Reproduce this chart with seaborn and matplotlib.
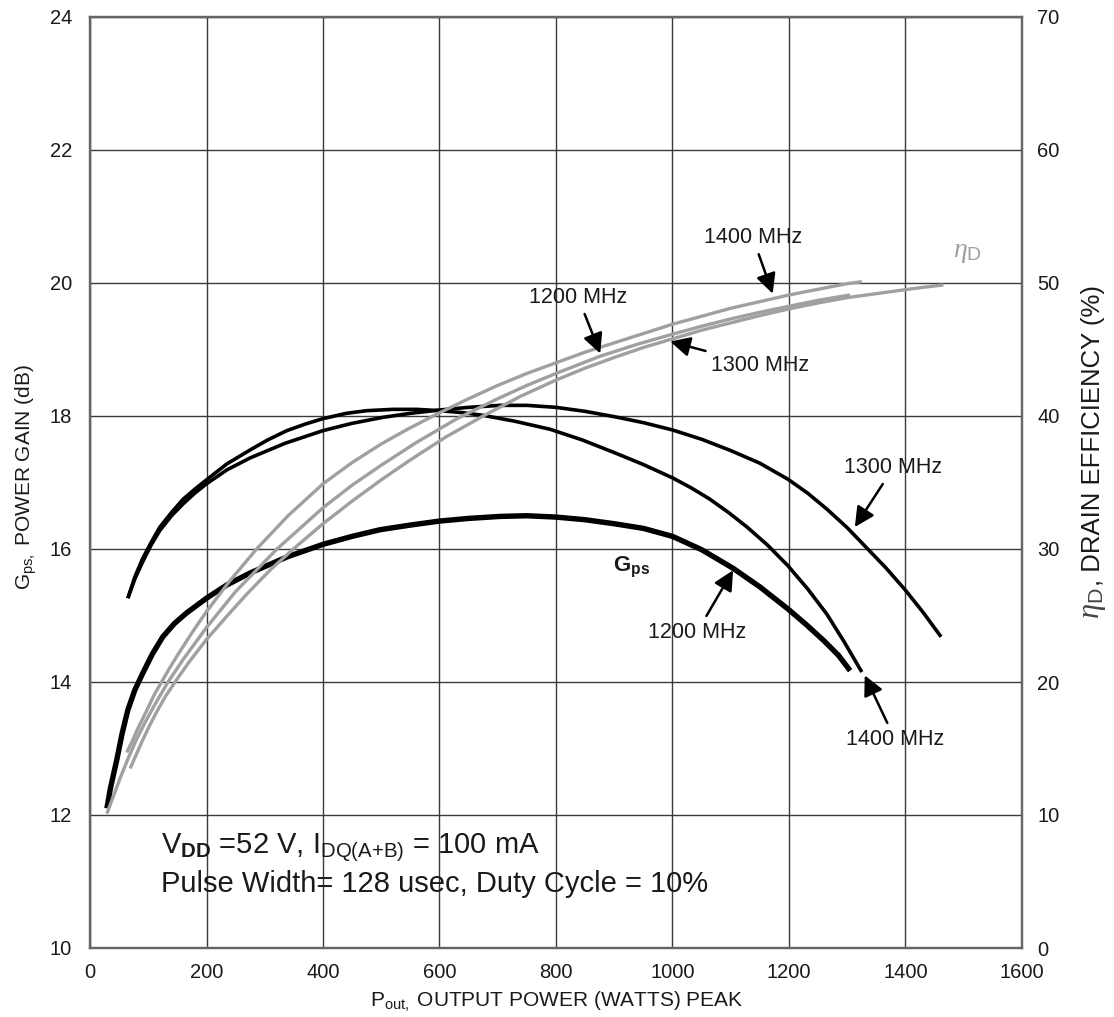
import matplotlib
matplotlib.use("Agg")
import matplotlib.pyplot as plt
import numpy as np
import pandas as pd
import seaborn as sns

# ---- Power gain (dB) vs. peak output power (W) ----
pout_gain_1200 = [29, 35, 46, 55, 65, 77, 91, 107, 125, 145, 166, 200, 235, 275, 338,
                  400, 450, 498, 550, 600, 650, 704, 750, 800, 850, 900, 950, 1000,
                  1050, 1104, 1150, 1198, 1230, 1260, 1285, 1305]
gain_1200 = [12.1, 12.4, 12.83, 13.22, 13.58, 13.88, 14.14, 14.42, 14.68, 14.88, 15.04,
             15.26, 15.46, 15.64, 15.88, 16.07, 16.19, 16.29, 16.36, 16.42, 16.46, 16.49,
             16.5, 16.48, 16.44, 16.38, 16.31, 16.19, 15.99, 15.71, 15.43, 15.1, 14.86,
             14.62, 14.4, 14.17]

pout_gain_1300 = [65, 77, 90, 105, 120, 140, 160, 180, 200, 235, 275, 335, 400, 450,
                  503, 550, 600, 650, 704, 750, 800, 850, 900, 950, 1000, 1050, 1100,
                  1150, 1198, 1232, 1265, 1300, 1333, 1366, 1399, 1430, 1461]
gain_1300 = [15.26, 15.55, 15.8, 16.06, 16.28, 16.5, 16.68, 16.84, 16.98, 17.19, 17.37,
             17.59, 17.78, 17.89, 17.98, 18.04, 18.09, 18.13, 18.16, 18.16, 18.13, 18.07,
             17.99, 17.9, 17.79, 17.65, 17.48, 17.29, 17.05, 16.84, 16.6, 16.32, 16.02,
             15.72, 15.39, 15.05, 14.68]

pout_gain_1400 = [65, 77, 90, 105, 120, 140, 160, 180, 200, 235, 275, 305, 338, 370,
                  400, 440, 475, 520, 561, 600, 640, 675, 730, 790, 845, 900, 950, 1000,
                  1032, 1064, 1096, 1128, 1163, 1198, 1232, 1265, 1295, 1325]
gain_1400 = [15.26, 15.58, 15.85, 16.1, 16.33, 16.55, 16.75, 16.9, 17.04, 17.28, 17.49,
             17.64, 17.78, 17.88, 17.96, 18.04, 18.08, 18.1, 18.1, 18.08, 18.05, 18.01,
             17.92, 17.8, 17.64, 17.45, 17.27, 17.07, 16.92, 16.75, 16.55, 16.33, 16.06,
             15.75, 15.4, 15.02, 14.6, 14.15]

# ---- Drain efficiency (%) vs. peak output power (W) ----
pout_eff_1200 = [29, 40, 52, 65, 80, 95, 110, 122, 134, 160, 200, 250, 321, 400, 450,
                 500, 560, 630, 700, 750, 800, 876, 940, 1000, 1050, 1100, 1150, 1200,
                 1250, 1305]
eff_1200 = [10.1, 11.4, 12.8, 14.2, 15.7, 17.0, 18.2, 19.1, 20.0, 21.7, 24.1, 26.8,
            30.0, 33.1, 34.8, 36.3, 38.0, 39.8, 41.3, 42.3, 43.2, 44.5, 45.4, 46.15,
            46.75, 47.3, 47.8, 48.25, 48.7, 49.1]

pout_eff_1300 = [69, 80, 90, 102, 115, 130, 146, 170, 200, 235, 270, 310, 349, 400,
                 450, 500, 550, 610, 675, 740, 800, 850, 900, 950, 1000, 1050, 1100,
                 1150, 1200, 1250, 1300, 1350, 1400, 1435, 1465]
eff_1300 = [13.5, 14.6, 15.6, 16.7, 17.8, 18.95, 20.0, 21.5, 23.2, 24.95, 26.65, 28.45,
            30.0, 31.9, 33.6, 35.2, 36.7, 38.4, 40.0, 41.5, 42.7, 43.6, 44.4, 45.15,
            45.8, 46.45, 47.0, 47.55, 48.05, 48.5, 48.9, 49.2, 49.5, 49.7, 49.85]

pout_eff_1400 = [63, 72, 80, 90, 100, 111, 123, 136, 150, 175, 200, 240, 286, 340, 400,
                 450, 500, 545, 589, 645, 700, 750, 800, 850, 900, 950, 1000, 1050,
                 1100, 1150, 1200, 1235, 1270, 1300, 1325]
eff_1400 = [14.7, 15.5, 16.3, 17.2, 18.1, 19.1, 20.0, 21.0, 22.0, 23.7, 25.3, 27.6,
            30.0, 32.5, 34.9, 36.5, 37.9, 39.0, 40.0, 41.2, 42.3, 43.2, 44.0, 44.8,
            45.5, 46.2, 46.9, 47.5, 48.1, 48.6, 49.1, 49.4, 49.7, 49.95, 50.1]

x_ticks = list(range(0, 1601, 200))
gain_ticks = list(range(10, 25, 2))
eff_ticks = list(range(0, 71, 10))

gain_df = pd.concat([
    pd.DataFrame({"freq": "1200 MHz", "pout": pout_gain_1200, "gain": gain_1200}),
    pd.DataFrame({"freq": "1300 MHz", "pout": pout_gain_1300, "gain": gain_1300}),
    pd.DataFrame({"freq": "1400 MHz", "pout": pout_gain_1400, "gain": gain_1400}),
])
eff_df = pd.concat([
    pd.DataFrame({"freq": "1200 MHz", "pout": pout_eff_1200, "eff": eff_1200}),
    pd.DataFrame({"freq": "1300 MHz", "pout": pout_eff_1300, "eff": eff_1300}),
    pd.DataFrame({"freq": "1400 MHz", "pout": pout_eff_1400, "eff": eff_1400}),
])

sns.set_theme(style="white")
plt.rcParams["font.family"] = ["Liberation Sans", "DejaVu Sans"]
plt.rcParams["mathtext.fontset"] = "custom"
plt.rcParams["mathtext.rm"] = "Liberation Sans"
plt.rcParams["mathtext.sf"] = "Liberation Sans"
plt.rcParams["mathtext.bf"] = "Liberation Sans:bold"
plt.rcParams["mathtext.it"] = "Liberation Serif:italic"

W, H = 1114, 1017
fig = plt.figure(figsize=(W / 100, H / 100), dpi=100)
fig.patch.set_facecolor("white")
ax = fig.add_axes([90 / W, (H - 948) / H, 932 / W, 931 / H])
ax2 = ax.twinx()

GRID = "#3a3a3a"
SPINE = "#666666"
TXT = "#1a1a1a"
GRAY = "#a0a0a0"

# gain curves (black); 1200 MHz drawn heavier
gain_widths = {"1200 MHz": 3.9, "1300 MHz": 2.6, "1400 MHz": 2.6}
for freq, sub in gain_df.groupby("freq"):
    sns.lineplot(data=sub, x="pout", y="gain", ax=ax, color="black",
                 linewidth=gain_widths[freq], estimator=None, sort=False,
                 legend=False, solid_joinstyle="round", solid_capstyle="butt")

# efficiency curves (gray) on the right axis
for freq, sub in eff_df.groupby("freq"):
    sns.lineplot(data=sub, x="pout", y="eff", ax=ax2, color=GRAY,
                 linewidth=2.4, estimator=None, sort=False, legend=False,
                 solid_joinstyle="round", solid_capstyle="butt")

ax.set_xlim(0, 1600)
ax.set_ylim(10, 24)
ax2.set_ylim(0, 70)
ax.set_xticks(x_ticks)
ax.set_yticks(gain_ticks)
ax2.set_yticks(eff_ticks)
ax.set_xticklabels([str(v) for v in x_ticks])
ax.set_yticklabels([str(v) for v in gain_ticks])
ax2.set_yticklabels([str(v) for v in eff_ticks])
ax.set_xlabel("")
ax.set_ylabel("")
ax2.set_ylabel("")

ax.set_axisbelow(True)
ax.grid(True, color=GRID, linewidth=1.0)
ax2.grid(False)
ax.tick_params(axis="x", length=0, labelsize=14.5, pad=11, labelcolor=TXT)
ax.tick_params(axis="y", length=0, labelsize=14.5, pad=13, labelcolor=TXT)
ax2.tick_params(axis="y", length=0, labelsize=14.5, pad=11, labelcolor=TXT)
for a in (ax, ax2):
    for s in a.spines.values():
        s.set_color(SPINE)
        s.set_linewidth(1.6)

# axis titles
fig.text(557 / W, 1 - 1001 / H, r"P$_{\mathrm{out,}}$ OUTPUT POWER (WATTS) PEAK",
         ha="center", va="center", fontsize=15, color=TXT)
fig.text(26 / W, 1 - 477 / H, r"G$_{\mathrm{ps,}}$ POWER GAIN (dB)",
         rotation=90, ha="center", va="center", fontsize=15, color=TXT)
fig.text(1093 / W, 1 - 586 / H, ", DRAIN EFFICIENCY (%)",
         rotation=90, ha="center", va="bottom", fontsize=18.5, color=TXT)
fig.text(1093 / W, 1 - 587 / H, r"$\eta_{\mathrm{D}}$",
         rotation=90, ha="center", va="top", fontsize=22, color="#444444")

arrow = dict(arrowstyle="-|>,head_length=0.6,head_width=0.3", color="black",
             lw=1.8, mutation_scale=20, shrinkA=2, shrinkB=0)
ann_kw = dict(fontsize=15.5, color=TXT, ha="center", va="center")

# efficiency call-outs
ax2.annotate("1400 MHz", xy=(1172, 49.2), xytext=(1138, 53.4),
             arrowprops=arrow, **ann_kw)
ax2.annotate("1200 MHz", xy=(876, 44.7), xytext=(838, 48.9),
             arrowprops=arrow, **ann_kw)
ax2.annotate("1300 MHz", xy=(996, 45.6), xytext=(1150, 43.8),
             arrowprops=arrow, **ann_kw)
ax2.text(1507, 52.3, r"$\eta_{\mathrm{D}}$", fontsize=20, color=GRAY,
         ha="center", va="center")

# gain call-outs
ax2.annotate("1300 MHz", xy=(1313, 16.33), xytext=(1379, 17.22),
             xycoords=ax.transData, textcoords=ax.transData,
             arrowprops=arrow, **ann_kw)
ax2.annotate("1200 MHz", xy=(1104, 15.68), xytext=(1042, 14.75),
             xycoords=ax.transData, textcoords=ax.transData,
             arrowprops=arrow, **ann_kw)
ax2.annotate("1400 MHz", xy=(1330, 14.1), xytext=(1382, 13.14),
             xycoords=ax.transData, textcoords=ax.transData,
             arrowprops=arrow, **ann_kw)
ax.text(930, 15.73, r"$\mathbf{G_{ps}}$", fontsize=16, color=TXT,
        ha="center", va="center")

# bias / pulse conditions
ax.text(122, 11.43, r"V$_{\mathbf{DD}}$ =52 V, I$_{\mathrm{DQ(A{+}B)}}$ = 100 mA",
        fontsize=21, color=TXT, ha="left", va="baseline")
ax.text(122, 10.84, "Pulse Width= 128 usec, Duty Cycle = 10%",
        fontsize=21, color=TXT, ha="left", va="baseline")

fig.savefig("out.png", dpi=100, facecolor="white")
